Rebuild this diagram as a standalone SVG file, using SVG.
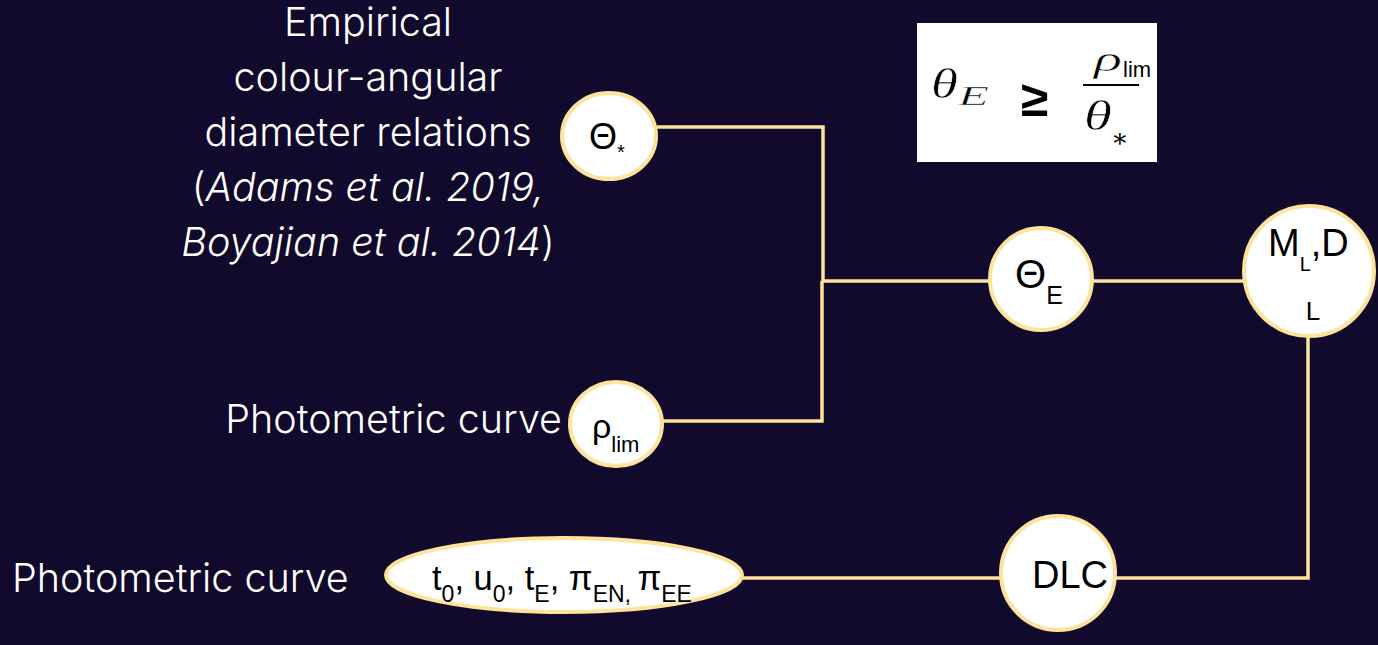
<svg xmlns="http://www.w3.org/2000/svg" width="1378" height="645" viewBox="0 0 1378 645">
<style>
.lbl{font-family:Inter,"Liberation Sans",sans-serif;font-weight:300;font-size:39.5px;fill:#ffffff}
.node{fill:#ffffff;stroke:#fde39c;stroke-width:4}
.nt{font-family:"Liberation Sans",Arial,sans-serif;fill:#000000}
.conn{fill:none;stroke:#fde39c;stroke-width:3.5}
.math{font-family:"Liberation Serif","DejaVu Serif",serif;font-style:italic;fill:#000000;stroke:#ffffff;stroke-width:0.5}
</style>
<rect width="1378" height="645" fill="#110a2c"/>
<g id="connectors">
<polyline class="conn" points="657,127 823,127 823,281 990,281"/>
<polyline class="conn" points="662,421 822,421 822,281"/>
<line class="conn" x1="1093" y1="281" x2="1245" y2="281"/>
<polyline class="conn" points="1308,336 1308,578 1114,578"/>
<line class="conn" x1="1001" y1="578" x2="742" y2="578"/>
</g>
<g id="label-empirical">
<text class="lbl" text-anchor="middle" x="368" y="36">Empirical</text>
<text class="lbl" text-anchor="middle" x="368" y="91">colour-angular</text>
<text class="lbl" text-anchor="middle" x="368" y="146">diameter relations</text>
<text class="lbl" text-anchor="middle" x="368" y="201">(<tspan font-style="italic">Adams et al. 2019,</tspan></text>
<text class="lbl" text-anchor="middle" x="368" y="256"><tspan font-style="italic">Boyajian et al. 2014</tspan>)</text>
</g>
<g id="label-photometric-1">
<text class="lbl" text-anchor="end" x="562" y="433">Photometric curve</text>
</g>
<g id="label-photometric-2">
<text class="lbl" x="12" y="592">Photometric curve</text>
</g>
<g id="node-theta-star">
<ellipse class="node" cx="609" cy="136" rx="47" ry="43"/>
<text class="nt" x="589" y="149" font-size="36">Θ<tspan font-size="20" dy="10">*</tspan></text>
</g>
<g id="node-rho-lim">
<ellipse class="node" cx="616" cy="424" rx="46" ry="42"/>
<text class="nt" x="592" y="438" font-size="34">ρ<tspan font-size="22" dy="14">lim</tspan></text>
</g>
<g id="node-theta-e">
<circle class="node" cx="1041" cy="279" r="51"/>
<text class="nt" x="1015" y="288" font-size="40">Θ<tspan font-size="25" dy="16">E</tspan></text>
</g>
<g id="node-ml-dl">
<circle class="node" cx="1309" cy="271" r="65"/>
<text class="nt" x="1268" y="256" font-size="38">M<tspan font-size="20" dy="15">L</tspan><tspan dy="-15">,D</tspan></text>
<text class="nt" x="1313" y="320" font-size="26" text-anchor="middle">L</text>
</g>
<g id="node-dlc">
<circle class="node" cx="1058" cy="573" r="57"/>
<text class="nt" x="1070" y="588" font-size="38" text-anchor="middle">DLC</text>
</g>
<g id="node-params">
<ellipse class="node" cx="564" cy="575" rx="178" ry="37"/>
<text class="nt" x="432" y="590" font-size="34.5">t<tspan font-size="23" dy="12">0</tspan><tspan dy="-12">, u</tspan><tspan font-size="23" dy="12">0</tspan><tspan dy="-12">, t</tspan><tspan font-size="23" dy="12">E</tspan><tspan dy="-12">, π</tspan><tspan font-size="23" dy="12">EN, </tspan><tspan dy="-12">π</tspan><tspan font-size="23" dy="12">EE</tspan></text>
</g>
<g id="formula">
<rect x="917" y="23" width="240" height="139" fill="#ffffff"/>
<text class="math" x="931" y="98" font-size="42" textLength="27" lengthAdjust="spacingAndGlyphs">θ</text>
<text class="math" x="958" y="105" font-size="28" textLength="31" lengthAdjust="spacingAndGlyphs" stroke="none">E</text>
<text x="1021" y="116" font-family="'Liberation Sans',Arial,sans-serif" font-weight="bold" font-size="50" fill="#000000">≥</text>
<text class="math" x="1094" y="71" font-size="36" textLength="28" lengthAdjust="spacingAndGlyphs">ρ</text>
<text x="1123" y="77" font-family="'Liberation Sans',Arial,sans-serif" font-size="22" fill="#000000">lim</text>
<line x1="1083" y1="85" x2="1139" y2="85" stroke="#000000" stroke-width="2"/>
<text class="math" x="1084" y="130" font-size="42" textLength="28" lengthAdjust="spacingAndGlyphs">θ</text>
<text x="1111" y="147" font-family="'DejaVu Serif',serif" font-size="26" fill="#000000">∗</text>
</g>
</svg>
